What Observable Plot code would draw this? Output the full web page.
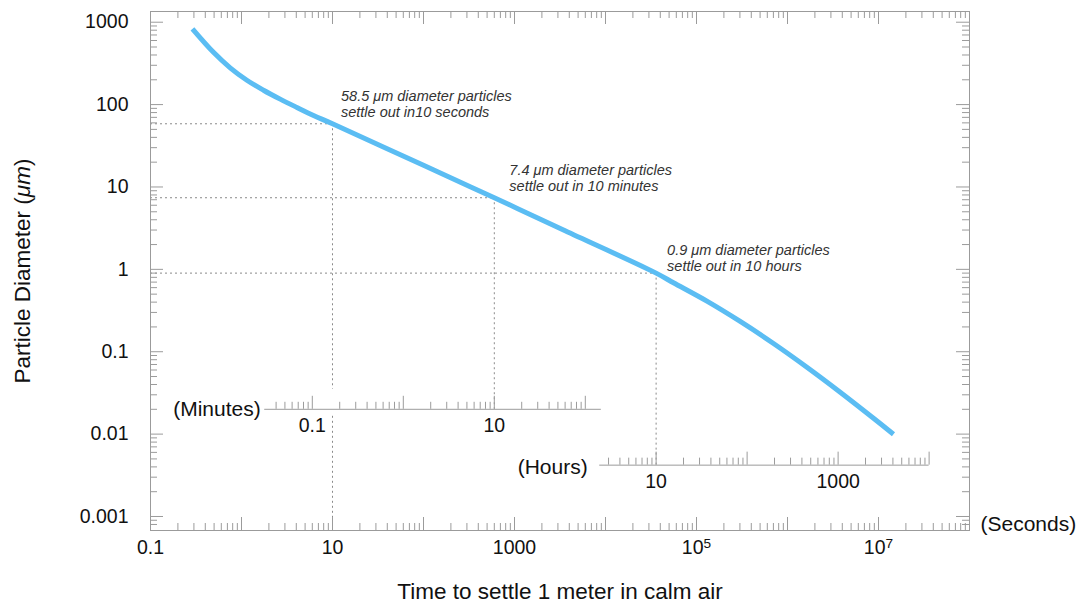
<!DOCTYPE html>
<html><head><meta charset="utf-8">
<script src="https://cdn.jsdelivr.net/npm/d3@7"></script>
<script src="https://cdn.jsdelivr.net/npm/@observablehq/plot@0.6"></script>
<style>body{margin:0;background:#fff}#chart{width:1081px;height:607px}</style>
</head><body><div id="chart"></div>
<script>
// ---- data ----
const curveSeconds = [0.289, 0.492, 0.751, 1.146, 1.745, 2.662, 4.062, 6.184, 10, 100, 600, 3600, 36000, 55800, 130100, 302200, 701800, 1634000, 3795000, 8813000, 14610000];
const curveMicrons = [831, 431, 279.6, 197.6, 149.5, 116.5, 92.4, 73.9, 58.5, 18.3, 7.4, 2.94, 0.9, 0.687, 0.411, 0.233, 0.126, 0.0649, 0.0323, 0.0156, 0.00997];

const markerSeconds = [10, 600, 36000];
const markerMicrons = [58.5, 7.4, 0.9];
const markerTexts = [
  "58.5 μm diameter particles\nsettle out in10 seconds",
  "7.4 μm diameter particles\nsettle out in 10 minutes",
  "0.9 μm diameter particles\nsettle out in 10 hours"
];

const secondsMajor = [0.1, 1, 10, 100, 1000, 1e4, 1e5, 1e6, 1e7, 1e8];
const secondsLabelValues = [0.1, 10, 1000, 1e5, 1e7];
const secondsLabelTexts = ["0.1", "10", "1000", "10^5", "10^7"];

const micronMajor = [0.001, 0.01, 0.1, 1, 10, 100, 1000];
const micronLabelTexts = ["0.001", "0.01", "0.1", "1", "10", "100", "1000"];

const minutesMajor = [0.1, 1, 10, 100];
const minutesLabelValues = [0.1, 10];
const minutesLabelTexts = ["0.1", "10"];
const minutesExtent = [0.03, 150];

const hoursMajor = [10, 100, 1000, 10000];
const hoursLabelValues = [10, 1000];
const hoursLabelTexts = ["10", "1000"];
const hoursExtent = [2.4, 10000];

const xTitle = "Time to settle 1 meter in calm air";
const yTitle = "Particle Diameter (μm)";

// ---- layout ----
const X_DOMAIN = [0.1, 1e8];
const Y_DOMAIN = [0.000676, 1349];
const MIN_AXIS_UM = 0.02;    // vertical placement of the minutes axis
const HR_AXIS_UM = 0.0042;   // vertical placement of the hours axis
const gray = "#9b9b9b";
const guide = "#8a8a8a";
const TM = 13, TN = 7;
const TICK_FS = 19.5, UNIT_FS = 21, TITLE_FS = 22.5;

function minors(majors, lo, hi) {
  const bases = [majors[0] / 10, ...majors];
  const out = [];
  for (const b of bases) for (let k = 2; k <= 9; k++) {
    const v = b * k;
    if (v > lo * 1.05 && v < hi * 0.999) out.push(v);
  }
  return out;
}
const secondsMinor = minors(secondsMajor, X_DOMAIN[0], X_DOMAIN[1]);
const micronMinor = minors(micronMajor, Y_DOMAIN[0], Y_DOMAIN[1]);
const minutesMinor = minors(minutesMajor, minutesExtent[0], minutesExtent[1]);
const hoursMinor = minors(hoursMajor, hoursExtent[0], hoursExtent[1]);

const curve = curveSeconds.map((s, i) => ({s, um: curveMicrons[i]}));
const [xMin, xMax] = X_DOMAIN, [yMin, yMax] = Y_DOMAIN;
const ink = "#111";

const frameTicksX = (vals, len) => [
  Plot.ruleX(vals, {x: d => d, y1: yMin, y2: yMin, insetBottom: len, stroke: gray}),
  Plot.ruleX(vals, {x: d => d, y1: yMax, y2: yMax, insetBottom: -len, stroke: gray})
];
const frameTicksY = (vals, len) => [
  Plot.ruleY(vals, {y: d => d, x1: xMin, x2: xMin, insetRight: -len, stroke: gray}),
  Plot.ruleY(vals, {y: d => d, x1: xMax, x2: xMax, insetLeft: -len, stroke: gray})
];
const upTicks = (vals, f, yv, len) =>
  Plot.ruleX(vals, {x: d => d * f, y1: yv, y2: yv, insetTop: -len, stroke: gray});

const annOffsets = [[8.5, -7], [15, -7], [11, -2]];

const chart = Plot.plot({
  width: 1081, height: 607,
  marginTop: 11, marginRight: 112, marginBottom: 77, marginLeft: 150,
  style: {fontFamily: "'Liberation Sans', Arial, Helvetica, sans-serif", background: "#fff"},
  x: {type: "log", domain: X_DOMAIN, axis: null},
  y: {type: "log", domain: Y_DOMAIN, axis: null},
  marks: [
    // guides
    Plot.ruleY(markerMicrons, {y: d => d, x1: xMin, x2: (d, i) => markerSeconds[i], stroke: guide, strokeDasharray: "2,3"}),
    Plot.ruleX([markerSeconds[0]], {x: d => d, y1: markerMicrons[0], y2: MIN_AXIS_UM, insetBottom: 20, stroke: guide, strokeDasharray: "2,3"}),
    Plot.ruleX([markerSeconds[0]], {x: d => d, y1: MIN_AXIS_UM, y2: yMin, insetTop: 7, stroke: guide, strokeDasharray: "2,3"}),
    Plot.ruleX([markerSeconds[1]], {x: d => d, y1: markerMicrons[1], y2: MIN_AXIS_UM, stroke: guide, strokeDasharray: "2,3"}),
    Plot.ruleX([markerSeconds[2]], {x: d => d, y1: markerMicrons[2], y2: HR_AXIS_UM, stroke: guide, strokeDasharray: "2,3"}),

    // frame + inward ticks
    Plot.frame({stroke: gray}),
    ...frameTicksX(secondsMajor, TM), ...frameTicksX(secondsMinor, TN),
    ...frameTicksY(micronMajor, TM), ...frameTicksY(micronMinor, TN),

    // primary tick labels
    Plot.text(secondsLabelValues, {x: d => d, frameAnchor: "bottom", dy: 17, textAnchor: "middle", lineAnchor: "middle", text: (d, i) => secondsLabelTexts[i], fontSize: TICK_FS, fill: ink}),
    Plot.text(micronMajor, {y: d => d, frameAnchor: "left", dx: -22, textAnchor: "end", lineAnchor: "middle", text: (d, i) => micronLabelTexts[i], fontSize: TICK_FS, fill: ink}),

    // minutes axis
    Plot.ruleY([MIN_AXIS_UM], {x1: minutesExtent[0] * 60, x2: minutesExtent[1] * 60, stroke: gray}),
    upTicks(minutesMajor, 60, MIN_AXIS_UM, TM), upTicks(minutesMinor, 60, MIN_AXIS_UM, TN),
    Plot.text(minutesLabelValues, {x: d => d * 60, y: MIN_AXIS_UM, dy: 16, lineAnchor: "middle", text: (d, i) => minutesLabelTexts[i], fontSize: TICK_FS, fill: ink}),
    Plot.text(["(Minutes)"], {x: minutesExtent[0] * 60, y: MIN_AXIS_UM, dx: -4, textAnchor: "end", lineAnchor: "middle", text: d => d, fontSize: UNIT_FS, fill: ink}),

    // hours axis
    Plot.ruleY([HR_AXIS_UM], {x1: hoursExtent[0] * 3600, x2: hoursExtent[1] * 3600, stroke: gray}),
    upTicks(hoursMajor, 3600, HR_AXIS_UM, TM), upTicks(hoursMinor, 3600, HR_AXIS_UM, TN),
    Plot.text(hoursLabelValues, {x: d => d * 3600, y: HR_AXIS_UM, dy: 17, lineAnchor: "middle", text: (d, i) => hoursLabelTexts[i], fontSize: TICK_FS, fill: ink}),
    Plot.text(["(Hours)"], {x: hoursExtent[0] * 3600, y: HR_AXIS_UM, dx: -12, dy: 2, textAnchor: "end", lineAnchor: "middle", text: d => d, fontSize: UNIT_FS, fill: ink}),

    // curve
    Plot.line(curve, {x: "s", y: "um", stroke: "#5bbdf3", strokeWidth: 5, curve: "catmull-rom", strokeLinecap: "butt"}),

    // annotations
    ...markerTexts.map((t, i) => Plot.text([t], {x: markerSeconds[i], y: markerMicrons[i], text: d => d, dx: annOffsets[i][0], dy: annOffsets[i][1], textAnchor: "start", lineAnchor: "bottom", lineHeight: 1.1, fontSize: 14.5, fontStyle: "italic", fill: "#333"})),

    // titles
    Plot.text(["(Seconds)"], {frameAnchor: "bottom-right", dx: 11, dy: -6, textAnchor: "start", lineAnchor: "middle", text: d => d, fontSize: UNIT_FS, fill: ink}),
    Plot.text([xTitle], {frameAnchor: "bottom", dy: 61, textAnchor: "middle", lineAnchor: "middle", text: d => d, fontSize: TITLE_FS, fill: ink}),
    Plot.text([yTitle], {frameAnchor: "left", dx: -128, rotate: -90, textAnchor: "middle", lineAnchor: "middle", text: d => d, fontSize: TITLE_FS, fill: ink})
  ]
});

// superscripts and italic unit
chart.querySelectorAll("text").forEach(t => {
  const s = t.textContent;
  const m = /^10\^(\d+)$/.exec(s);
  if (m && t.children.length === 0) {
    t.textContent = "10";
    const sup = document.createElementNS("http://www.w3.org/2000/svg", "tspan");
    sup.setAttribute("dy", "-0.45em");
    sup.setAttribute("font-size", "0.7em");
    sup.textContent = m[1];
    t.appendChild(sup);
  } else if (s === yTitle && t.children.length === 0) {
    t.textContent = "Particle Diameter (";
    const it = document.createElementNS("http://www.w3.org/2000/svg", "tspan");
    it.setAttribute("font-style", "italic");
    it.textContent = "μm";
    t.appendChild(it);
    t.appendChild(document.createTextNode(")"));
  }
});
document.getElementById("chart").appendChild(chart);
</script>
</body></html>
